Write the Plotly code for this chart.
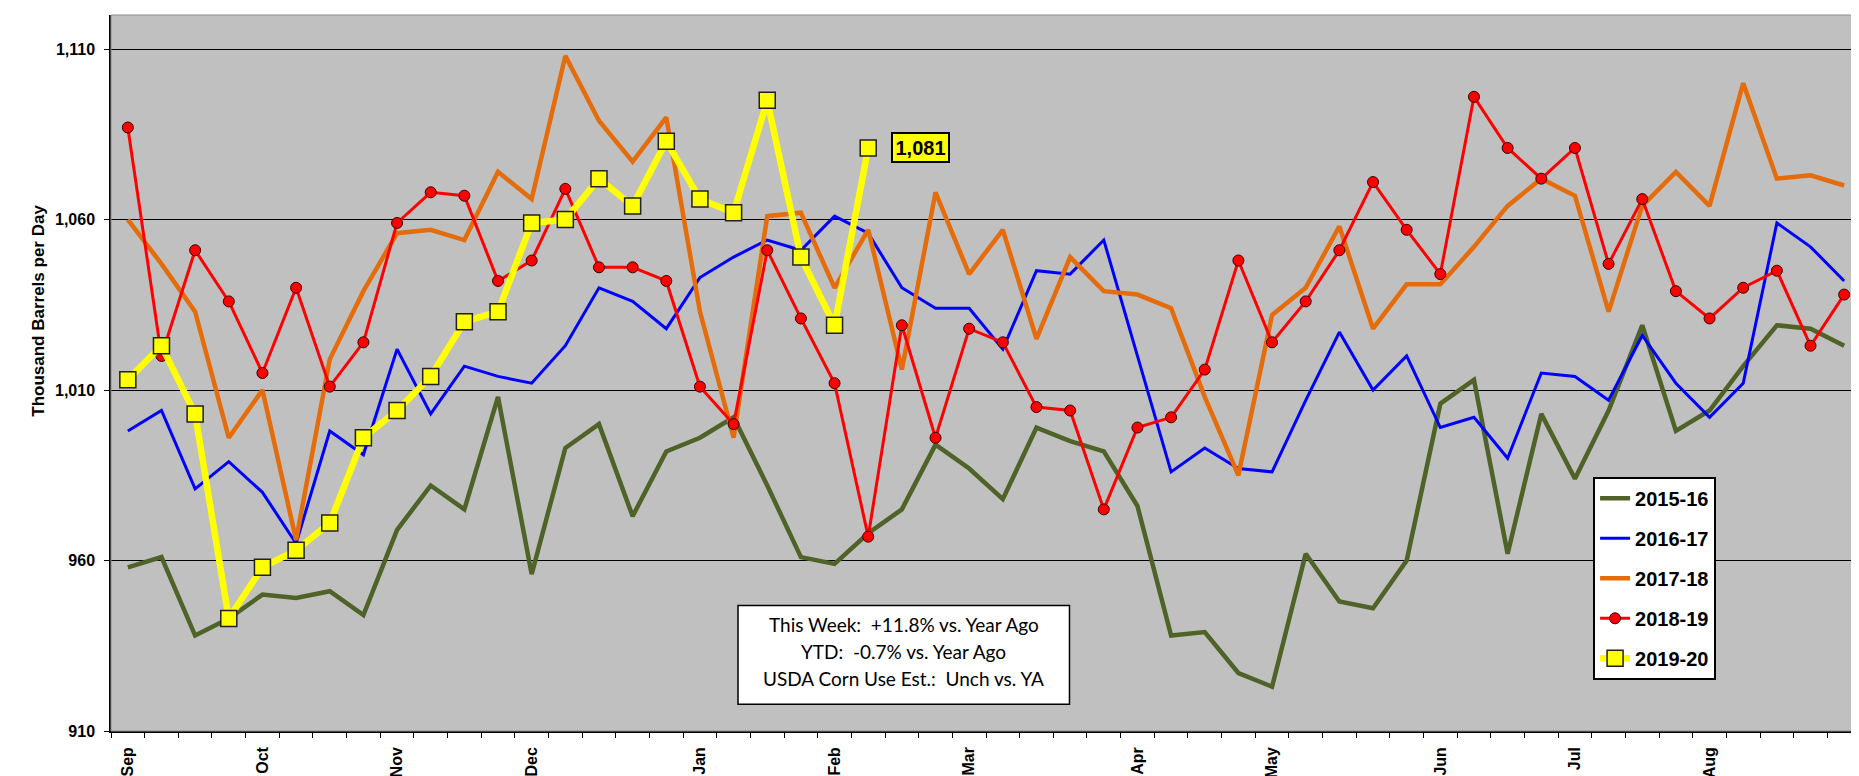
import plotly.graph_objects as go

# ---- data -------------------------------------------------------------
weeks = list(range(52))
month_pos = [0, 4, 8, 12, 17, 21, 25, 30, 34, 39, 43, 47]
month_labels = ["Sep", "Oct", "Nov", "Dec", "Jan", "Feb", "Mar", "Apr",
                "May", "Jun", "Jul", "Aug"]
y_ticks = [910, 960, 1010, 1060, 1110]

s2015_16 = [958, 961, 938, 943, 950, 949, 951, 944, 969, 982, 975, 1008, 956,
            993, 1000, 973, 992, 996, 1002, 982, 961, 959, 968, 975, 994, 987,
            978, 999, 995, 992, 976, 938, 939, 927, 923, 962, 948, 946, 960,
            1006, 1013, 962, 1003, 984, 1004, 1029, 998, 1004, 1017, 1029,
            1028, 1023]
s2016_17 = [998, 1004, 981, 989, 980, 965, 998, 991, 1022, 1003, 1017, 1014,
            1012, 1023, 1040, 1036, 1028, 1043, 1049, 1054, 1051, 1061, 1056,
            1040, 1034, 1034, 1022, 1045, 1044, 1054, 1020, 986, 993, 987, 986,
            1007, 1027, 1010, 1020, 999, 1002, 990, 1015, 1014, 1007, 1026,
            1012, 1002, 1012, 1059, 1052, 1042]
s2017_18 = [1060, 1047, 1033, 996, 1010, 966, 1019, 1039, 1056, 1057, 1054,
            1074, 1066, 1108, 1089, 1077, 1090, 1033, 996, 1061, 1062, 1040,
            1057, 1016, 1068, 1044, 1057, 1025, 1049, 1039, 1038, 1034, 1008,
            985, 1032, 1040, 1058, 1028, 1041, 1041, 1052, 1064, 1072, 1067,
            1033, 1064, 1074, 1064, 1100, 1072, 1073, 1070]
s2018_19 = [1087, 1020, 1051, 1036, 1015, 1040, 1011, 1024, 1059, 1068, 1067,
            1042, 1048, 1069, 1046, 1046, 1042, 1011, 1000, 1051, 1031, 1012,
            967, 1029, 996, 1028, 1024, 1005, 1004, 975, 999, 1002, 1016, 1048,
            1024, 1036, 1051, 1071, 1057, 1044, 1096, 1081, 1072, 1081, 1047,
            1066, 1039, 1031, 1040, 1045, 1023, 1038]
s2019_20 = [1013, 1023, 1003, 943, 958, 963, 971, 996, 1004, 1014, 1030, 1033,
            1059, 1060, 1072, 1064, 1083, 1066, 1062, 1095, 1049, 1029, 1081]

series_names = ["2015-16", "2016-17", "2017-18", "2018-19", "2019-20"]
box_lines = ["This Week:  +11.8% vs. Year Ago",
             "YTD:  -0.7% vs. Year Ago",
             "USDA Corn Use Est.:  Unch vs. YA"]

# ---- figure -----------------------------------------------------------
AX_FONT = "Liberation Sans, Arial, sans-serif"
BOX_FONT = "Lato, Open Sans, sans-serif"
fig = go.Figure()

fig.add_trace(go.Scatter(x=weeks, y=s2015_16, name=series_names[0],
                         legendgroup="a", mode="lines",
                         line=dict(color="#4F6228", width=4.5)))
fig.add_trace(go.Scatter(x=weeks, y=s2016_17, name=series_names[1],
                         legendgroup="b", mode="lines",
                         line=dict(color="#0000FF", width=3)))
fig.add_trace(go.Scatter(x=weeks, y=s2017_18, name=series_names[2],
                         legendgroup="c", mode="lines",
                         line=dict(color="#E46C0A", width=4.5)))
fig.add_trace(go.Scatter(x=weeks, y=s2018_19, name=series_names[3],
                         legendgroup="d", mode="lines+markers",
                         line=dict(color="#FF0000", width=3),
                         marker=dict(symbol="circle", size=11, color="#FF0000",
                                     line=dict(color="#3A0000", width=1))))
fig.add_trace(go.Scatter(x=weeks[:len(s2019_20)], y=s2019_20,
                         name=series_names[4], legendgroup="e",
                         mode="lines+markers",
                         line=dict(color="#FFFF00", width=6.5),
                         marker=dict(symbol="square", size=16, color="#FFFF00",
                                     line=dict(color="#202020", width=1.5))))

# last value label
last_i = len(s2019_20) - 1
fig.add_annotation(x=weeks[last_i], y=s2019_20[last_i], xref="x", yref="y",
                   text="<b>{:,}</b>".format(s2019_20[last_i]),
                   showarrow=False, xshift=52, width=53, height=25,
                   font=dict(family=AX_FONT, size=20, color="black"),
                   bgcolor="#FFFF00", bordercolor="black", borderwidth=2,
                   borderpad=1)

# info box
fig.add_shape(type="rect", xref="paper", yref="paper",
              x0=0.35829, x1=0.54771, y0=0.03747, y1=0.17530,
              line=dict(color="black", width=1.5), fillcolor="white",
              layer="above")
for line_txt, ypos in zip(box_lines, [0.14851, 0.11062, 0.07356]):
    fig.add_annotation(x=0.45286, y=ypos, xref="paper", yref="paper",
                       xanchor="center", yanchor="middle", text=line_txt,
                       showarrow=False,
                       font=dict(family=BOX_FONT, size=19, color="black"))

# y axis title
fig.add_annotation(x=-0.0477, y=0.587, xref="paper", yref="paper",
                   text="<b>Thousand Barrels per Day</b>", textangle=-90,
                   showarrow=False,
                   font=dict(family=AX_FONT, size=17, color="black"))

# plot border (top/right)
fig.add_shape(type="rect", xref="paper", yref="paper", x0=0, x1=1, y0=0, y1=1,
              line=dict(color="#8C8C8C", width=1), layer="above")

fig.update_layout(
    width=1859, height=776,
    margin=dict(l=103, r=6, t=7, b=48),
    paper_bgcolor="white", plot_bgcolor="#C0C0C0",
    showlegend=True,
    legend=dict(x=0.8469, y=0.355, xanchor="left", yanchor="top",
                bgcolor="white", bordercolor="black", borderwidth=2,
                font=dict(family=AX_FONT, size=20, color="black", weight="bold"),
                traceorder="grouped", tracegroupgap=11),
    xaxis=dict(range=[-0.5, 51.5], tickmode="array", tickvals=month_pos,
               ticktext=month_labels, tickangle=-90, ticks="",
               showgrid=False, zeroline=False, showline=True,
               linecolor="black", linewidth=1.5,
               ticklabelstandoff=8,
               tickfont=dict(family=AX_FONT, size=16, color="black",
                             weight="bold"),
               minor=dict(ticks="outside", tick0=-0.5, dtick=1, ticklen=5,
                          tickcolor="black", tickwidth=1, showgrid=False)),
    yaxis=dict(range=[910, 1120], tickmode="array", tickvals=y_ticks,
               tickformat=",d", ticks="outside", ticklen=5, tickcolor="black",
               showgrid=True, gridcolor="black", gridwidth=1, zeroline=False,
               showline=True, linecolor="black", linewidth=1.5,
               ticklabelstandoff=6,
               tickfont=dict(family=AX_FONT, size=16, color="black",
                             weight="bold")),
)

fig.write_html("out.html")
